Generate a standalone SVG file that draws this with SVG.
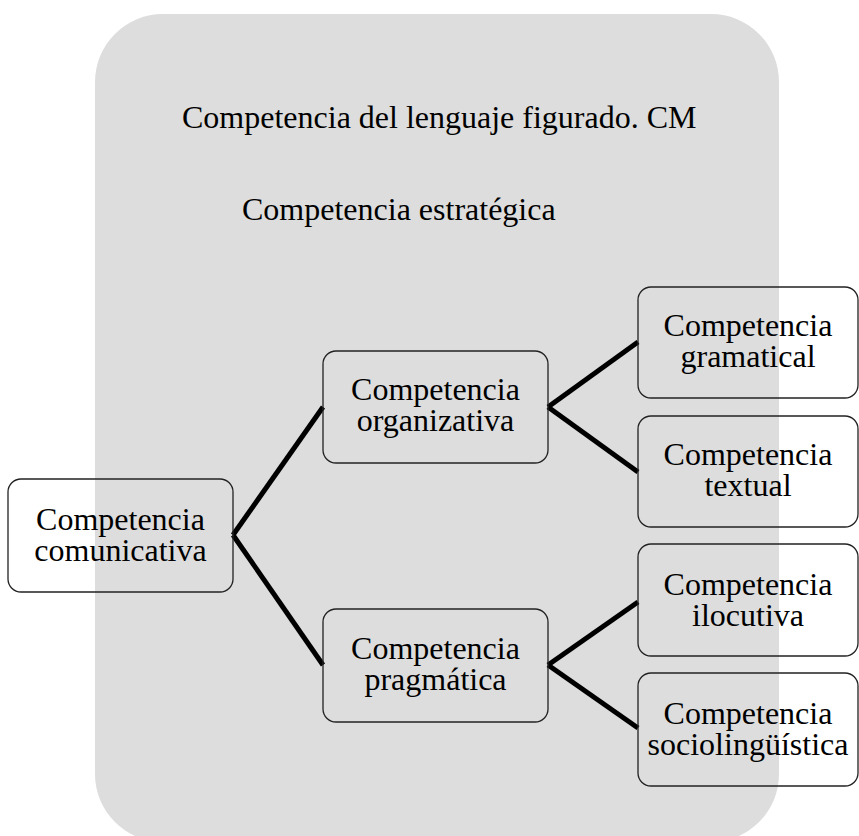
<svg xmlns="http://www.w3.org/2000/svg" width="859" height="836" viewBox="0 0 859 836">
  <style>
    .panel { fill: #dddddd; }
    .box { fill: none; stroke: #222222; stroke-width: 1.3; }
    .lbl { font-family: "Liberation Serif", "Times New Roman", serif; font-size: 32px; fill: #000000; text-anchor: middle; }
    .head { font-family: "Liberation Serif", "Times New Roman", serif; font-size: 32px; fill: #000000; }
    .link { stroke: #000000; stroke-width: 5; fill: none; stroke-linecap: butt; }
  </style>

  <!-- background panel -->
  <rect class="panel" x="95" y="14" width="684" height="828" rx="68" ry="68"/>
  <text class="head" x="182" y="128">Competencia del lenguaje figurado. CM</text>
  <text class="head" x="242" y="220">Competencia estratégica</text>

  <!-- connectors -->
  <g id="connectors">
    <path class="link" d="M233,535 L323,407"/>
    <path class="link" d="M233,535 L323,665"/>
    <path class="link" d="M548,407 L638,342"/>
    <path class="link" d="M548,407 L638,472"/>
    <path class="link" d="M548,665 L638,602"/>
    <path class="link" d="M548,665 L638,728"/>
  </g>

  <g id="comunicativa">
    <rect class="box" x="8" y="479" width="225" height="113" rx="13"/>
    <text class="lbl" x="120.5" y="530">Competencia</text>
    <text class="lbl" x="120.5" y="561">comunicativa</text>
  </g>

  <g id="organizativa">
    <rect class="box" x="323" y="351" width="225" height="112" rx="13"/>
    <text class="lbl" x="435.5" y="400">Competencia</text>
    <text class="lbl" x="435.5" y="431">organizativa</text>
  </g>

  <g id="pragmatica">
    <rect class="box" x="323" y="609" width="225" height="113" rx="13"/>
    <text class="lbl" x="435.5" y="659">Competencia</text>
    <text class="lbl" x="435.5" y="690">pragmática</text>
  </g>

  <g id="gramatical">
    <rect class="box" x="638" y="287" width="220" height="111" rx="13"/>
    <text class="lbl" x="748" y="336">Competencia</text>
    <text class="lbl" x="748" y="367">gramatical</text>
  </g>

  <g id="textual">
    <rect class="box" x="638" y="416" width="220" height="111" rx="13"/>
    <text class="lbl" x="748" y="465">Competencia</text>
    <text class="lbl" x="748" y="496">textual</text>
  </g>

  <g id="ilocutiva">
    <rect class="box" x="638" y="544" width="220" height="112" rx="13"/>
    <text class="lbl" x="748" y="595">Competencia</text>
    <text class="lbl" x="748" y="626">ilocutiva</text>
  </g>

  <g id="sociolinguistica">
    <rect class="box" x="638" y="673" width="220" height="113" rx="13"/>
    <text class="lbl" x="748" y="724">Competencia</text>
    <text class="lbl" x="748" y="755">sociolingüística</text>
  </g>
</svg>
